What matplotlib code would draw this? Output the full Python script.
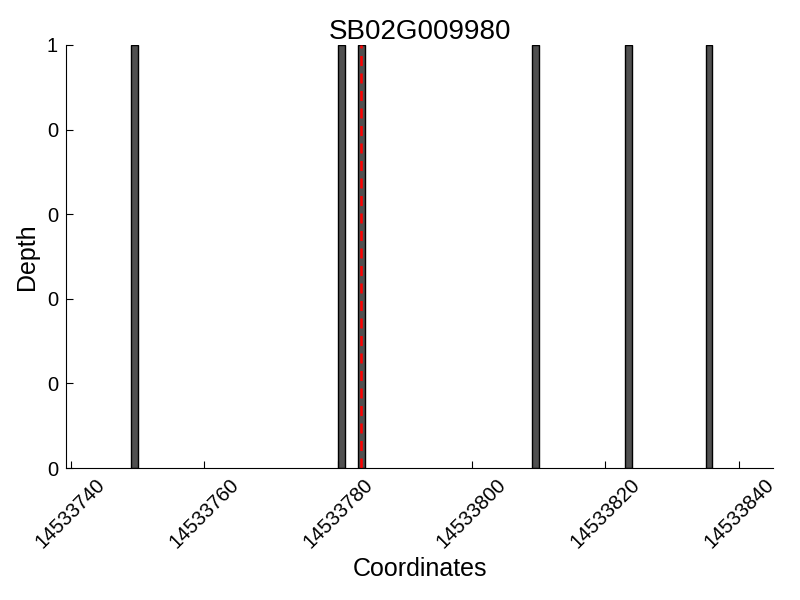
import matplotlib
matplotlib.use("Agg")
import matplotlib.pyplot as plt
import numpy as np

plt.rcParams['font.family'] = ['Liberation Sans', 'DejaVu Sans']

# read coverage (left edge of each 1bp bin) and depth
positions = [14533749, 14533780, 14533783, 14533809, 14533823, 14533835]
depths = [1, 1, 1, 1, 1, 1]
marker_pos = 14533783.5
gene = "SB02G009980"
xticks = [14533740, 14533760, 14533780, 14533800, 14533820, 14533840]
yticks = [0, 0.2, 0.4, 0.6, 0.8, 1.0]

fig = plt.figure(figsize=(8, 6), dpi=100)
ax = fig.add_axes([0.083, 0.22, 0.883, 0.705])

ax.bar(positions, depths, width=1, align='edge', color='#505050',
       edgecolor='black', linewidth=1)
ax.axvline(marker_pos, color='red', linestyle=(0, (4, 3)), linewidth=1.8)

ax.set_xlim(14533739.35, 14533845.05)
ax.set_ylim(0, 1)
ax.set_xticks(xticks)
ax.set_xticklabels([str(x) for x in xticks], rotation=45, ha='center')
ax.set_yticks(yticks)
ax.set_yticklabels(['%d' % y for y in yticks])

ax.spines['top'].set_visible(False)
ax.spines['right'].set_visible(False)
ax.tick_params(direction='in', length=5, labelsize=14.5, top=False, right=False)
ax.tick_params(axis='y', pad=6)
ax.tick_params(axis='x', pad=5)

ax.set_xlabel('Coordinates', fontsize=18)
ax.set_ylabel('Depth', fontsize=18, labelpad=6)
ax.set_title(gene, fontsize=20, pad=4)

fig.savefig('out.png', dpi=100)
